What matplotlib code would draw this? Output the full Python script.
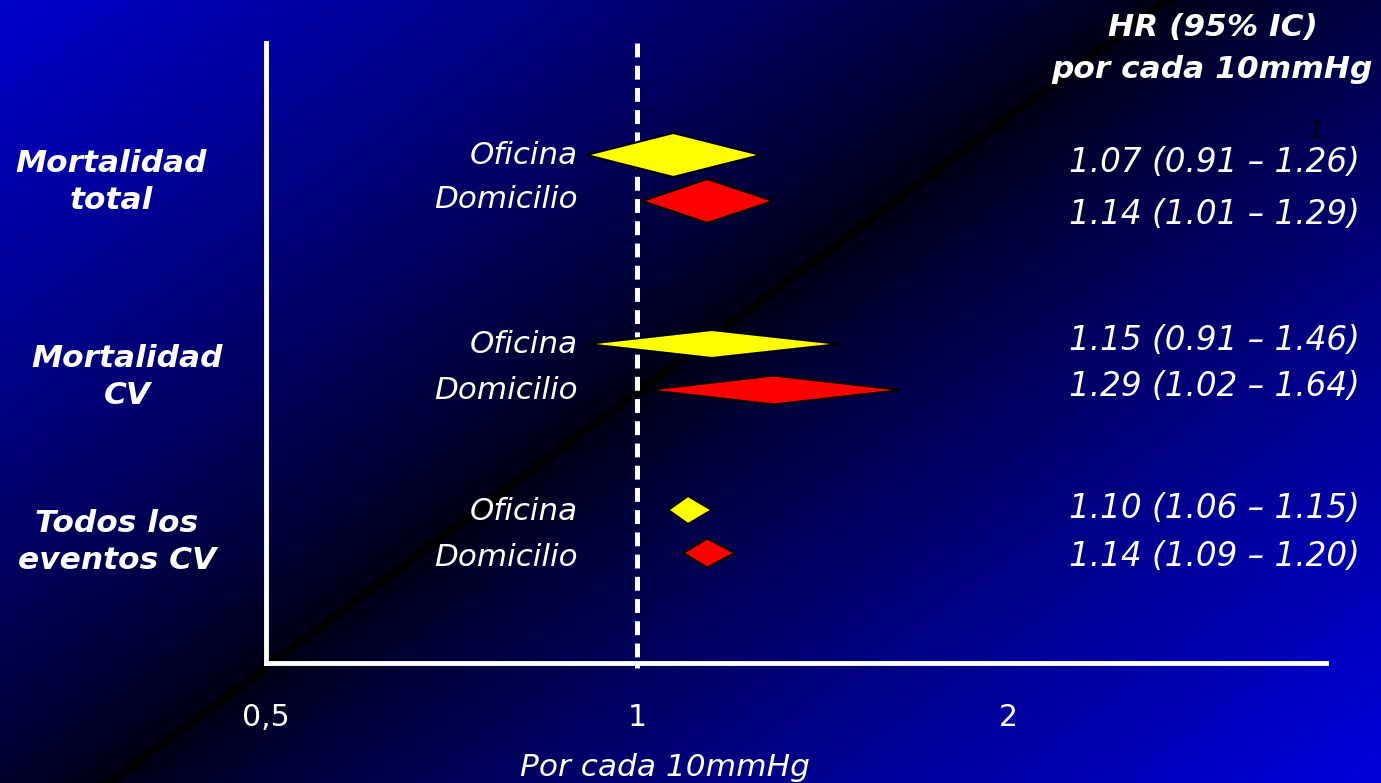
import numpy as np
import matplotlib
matplotlib.use("Agg")
import matplotlib.pyplot as plt
from matplotlib.patches import Polygon

# ---- data ----
groups = ["Mortalidad\ntotal", "Mortalidad\nCV", "Todos los\neventos CV"]
measures = ["Oficina", "Domicilio", "Oficina", "Domicilio", "Oficina", "Domicilio"]
hr = [1.07, 1.14, 1.15, 1.29, 1.10, 1.14]
ci_low = [0.91, 1.01, 0.91, 1.02, 1.06, 1.09]
ci_high = [1.26, 1.29, 1.46, 1.64, 1.15, 1.20]
tick_values = [0.5, 1, 2]
tick_labels = ["0,5", "1", "2"]

W, H = 1381, 783
fig = plt.figure(figsize=(W / 100, H / 100), dpi=100)

# ---- background: blue fading towards a thin black diagonal ----
bg = fig.add_axes([0, 0, 1, 1])
yy, xx = np.mgrid[0:H, 0:W].astype(float)
d = ((xx - 265) + (yy - 667) * 1.35) / np.hypot(1, 1.35)
ad = np.abs(d)
reach = np.where(d < 0, 689.0, 753.0)
top = np.where(d < 0, 205.0, 222.0)
shade = 0.1 + 0.9 * np.clip((ad - 3) / reach, 0, 1) ** 0.82
edge = np.clip((ad - 2) / 4, 0, 1)
edge = edge * edge * (3 - 2 * edge)
blue = top * shade * edge
img = np.zeros((H, W, 3))
img[..., 2] = blue / 255
bg.imshow(img, extent=[0, W, H, 0], aspect="auto", interpolation="bilinear")
bg.set_xlim(0, W)
bg.set_ylim(H, 0)
bg.axis("off")


def px(x, y):
    return x / W, 1 - y / H


# ---- forest plot axes ----
ax_l, ax_r, ax_t, ax_b = 266, 1326, 43, 663
ax = fig.add_axes([ax_l / W, 1 - ax_b / H, (ax_r - ax_l) / W, (ax_b - ax_t) / H])
ax.patch.set_alpha(0)
ax.set_xscale("log", base=2)
ax.set_xlim(0.5, 0.5 * 2 ** ((ax_r - ax_l) / 371))
ax.set_ylim(ax_b - ax_t, 0)
for s in ["top", "right"]:
    ax.spines[s].set_visible(False)
for s in ["left", "bottom"]:
    ax.spines[s].set_color("white")
    ax.spines[s].set_linewidth(3.5)
ax.set_yticks([])
ax.set_xticks(tick_values)
ax.set_xticklabels(tick_labels)
ax.minorticks_off()
ax.tick_params(axis="x", length=0, pad=29, labelsize=21.5, labelcolor="white")

# reference line at HR = 1
matplotlib.rcParams["lines.scale_dashes"] = False
ax.plot([1, 1], [0, ax_b - ax_t + 5], color="white", lw=3.6,
        dashes=(10, 6), clip_on=False, zorder=2)

# diamonds
row_y = [112, 158, 301, 347, 467, 510]
row_h = [44, 44, 28, 29, 28, 29]
colors = ["#FFFF00", "#FF0000"] * 3
for y, h, c, lo, m, hi in zip(row_y, row_h, colors, ci_low, hr, ci_high):
    poly = Polygon([(lo, y), (m, y - h / 2), (hi, y), (m, y + h / 2)],
                   closed=True, facecolor=c, edgecolor="black", lw=1.5, zorder=3)
    ax.add_patch(poly)

# measure names next to diamonds
name_y = [155, 200, 345, 391, 511, 557]
for y, name in zip(name_y, measures):
    fig.text(*px(578, y), name, ha="right", va="center", color="white",
             fontsize=22.3, style="italic")

# group labels
group_pos = [(111, 182), (127, 377), (117, 542)]
for (x, y), g in zip(group_pos, groups):
    fig.text(*px(x, y), g, ha="center", va="center", color="white",
             fontsize=22.5, style="italic", fontweight="bold", linespacing=1.36)

# HR values with confidence intervals
val_y = [163, 214, 340, 387, 509, 556]
for y, m, lo, hi in zip(val_y, hr, ci_low, ci_high):
    fig.text(*px(1360, y), f"{m:.2f} ({lo:.2f} \u2013 {hi:.2f})", ha="right",
             va="center", color="white", fontsize=23.5, style="italic")

# column header
fig.text(*px(1213, 28), "HR (95% IC)", ha="center", va="center", color="white",
         fontsize=22.5, style="italic", fontweight="bold")
fig.text(*px(1212, 70), "por cada 10mmHg", ha="center", va="center",
         color="white", fontsize=22.5, style="italic", fontweight="bold")
fig.text(*px(1316, 131), "1", ha="center", va="center", color="black",
         fontsize=17, style="italic")

# x-axis caption
fig.text(*px(665, 767), "Por cada 10mmHg", ha="center", va="center",
         color="white", fontsize=22.5, style="italic")

fig.savefig("out.png", dpi=100)
